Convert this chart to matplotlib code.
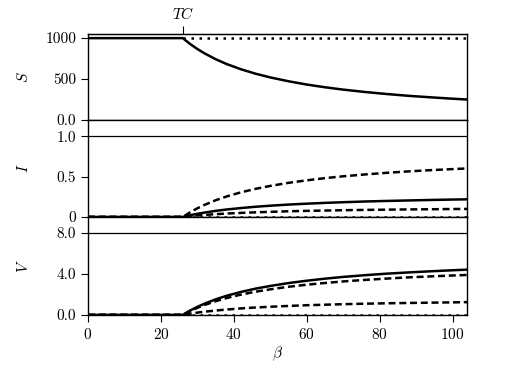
import matplotlib
matplotlib.use("Agg")
import matplotlib.pyplot as plt

plt.rcParams['font.family'] = 'serif'
plt.rcParams['font.serif'] = ['cmr10', 'DejaVu Serif']
plt.rcParams['mathtext.fontset'] = 'cm'
plt.rcParams['axes.formatter.use_mathtext'] = True
plt.rcParams['font.size'] = 11
plt.rcParams['xtick.major.size'] = 5
plt.rcParams['ytick.major.size'] = 5
plt.rcParams['lines.dashed_pattern'] = [2.8, 1.5]
plt.rcParams['lines.dotted_pattern'] = [1.0, 2.2]

TC = 26
beta = [0, 26, 28, 30, 32, 35, 38, 42, 46, 50, 55, 60, 65, 70, 76, 82, 88, 94, 100, 104]

# S panel
S_solid = [1000, 1000, 929, 867, 813, 743, 684, 619, 565, 520, 473, 433, 400, 371, 342, 317, 295, 277, 260, 250]
S_dot = [1000] * len(beta)

# I panel
I_solid = [0, 0, 0.021, 0.039, 0.054, 0.075, 0.092, 0.110, 0.126, 0.139, 0.153, 0.164, 0.174, 0.182, 0.191, 0.198, 0.204, 0.210, 0.215, 0.218]
I_dash_hi = [0, 0, 0.057, 0.107, 0.150, 0.206, 0.253, 0.305, 0.348, 0.384, 0.422, 0.453, 0.480, 0.503, 0.526, 0.546, 0.564, 0.579, 0.592, 0.600]
I_dash_lo = [0, 0, 0.009, 0.018, 0.025, 0.034, 0.042, 0.050, 0.057, 0.063, 0.070, 0.075, 0.079, 0.083, 0.087, 0.090, 0.093, 0.095, 0.098, 0.099]
I_dot = [0] * len(beta)

# V panel
V_solid = [0, 0, 0.42, 0.78, 1.10, 1.51, 1.86, 2.24, 2.56, 2.82, 3.10, 3.33, 3.53, 3.70, 3.87, 4.02, 4.14, 4.25, 4.35, 4.41]
V_dash_hi = [0, 0, 0.37, 0.69, 0.97, 1.33, 1.64, 1.98, 2.26, 2.49, 2.74, 2.94, 3.11, 3.26, 3.41, 3.54, 3.66, 3.75, 3.84, 3.89]
V_dash_lo = [0, 0, 0.12, 0.22, 0.31, 0.42, 0.52, 0.63, 0.72, 0.79, 0.87, 0.94, 0.99, 1.04, 1.09, 1.13, 1.16, 1.19, 1.22, 1.24]
V_dot = [0] * len(beta)

fig, (ax1, ax2, ax3) = plt.subplots(3, 1, sharex=True, figsize=(5.19, 3.70), dpi=100,
                                    gridspec_kw={'height_ratios': [86, 97, 98], 'hspace': 0})
fig.subplots_adjust(left=0.1696, right=0.900, top=0.908, bottom=0.149)

lw = 1.8
ax1.plot(beta[1:], S_dot[1:], 'k:', lw=lw)
ax1.plot(beta, S_solid, 'k-', lw=lw)
ax1.set_ylim(0, 1050)
ax1.set_yticks([0, 500, 1000])
ax1.set_yticklabels(['0.0', '500', '1000'])
ax1.set_ylabel('$S$')

ax2.plot(beta, I_dot, 'k:', lw=lw)
ax2.plot(beta, I_dash_lo, 'k--', lw=lw)
ax2.plot(beta, I_dash_hi, 'k--', lw=lw)
ax2.plot(beta, I_solid, 'k-', lw=lw)
ax2.axhline(1.0, color='k', lw=0.9)
ax2.set_ylim(0, 1.2)
ax2.set_yticks([0, 0.5, 1.0])
ax2.set_yticklabels(['0', '0.5', '1.0'])
ax2.set_ylabel('$I$')

ax3.plot(beta, V_dot, 'k:', lw=lw)
ax3.plot(beta, V_dash_lo, 'k--', lw=lw)
ax3.plot(beta, V_dash_hi, 'k--', lw=lw)
ax3.plot(beta, V_solid, 'k-', lw=lw)
ax3.axhline(8.0, color='k', lw=0.9)
ax3.set_ylim(0, 9.55)
ax3.set_yticks([0, 4, 8])
ax3.set_yticklabels(['0.0', '4.0', '8.0'])
ax3.set_ylabel('$V$')

ax3.set_xlim(0, 104)
ax3.set_xticks([0, 20, 40, 60, 80, 100])
ax3.set_xlabel(r'$\beta$', labelpad=2)

for ax in (ax1, ax2):
    ax.tick_params(axis='x', bottom=False, labelbottom=False)
for ax in (ax1, ax2, ax3):
    ax.yaxis.set_label_coords(-0.15, 0.5)
    for s in ax.spines.values():
        s.set_linewidth(1.0)

top = ax1.secondary_xaxis('top')
top.set_xticks([TC])
top.set_xticklabels(['$TC$'])
top.tick_params(length=6, pad=3)

fig.savefig('out.png', dpi=100)
